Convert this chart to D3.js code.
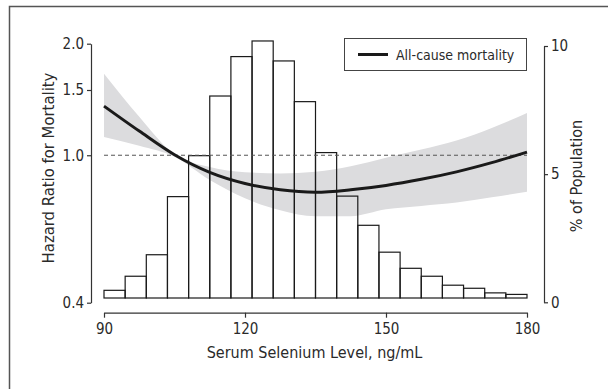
<!DOCTYPE html>
<html lang="en">
  <head>
    <meta charset="utf-8">
    <title>Selenium mortality</title>
    <script src="https://d3js.org/d3.v7.min.js"></script>
    <style>
      body { margin: 0; background: #fff; }
      text { font-family: "Liberation Sans Narrow", "DejaVu Sans Condensed", "Liberation Sans", sans-serif; fill: #2a2a2a; }
    </style>
  </head>
  <body>
    <div id="chart"></div>
    <script>
      // Histogram: % of population per 4.5 ng/mL bin, from 90 to 180
      var binEdges = d3.range(0, 21).map(function(i) { return 90 + i * 4.5; });
      var pctPopulation = [0.30, 0.85, 1.69, 3.96, 5.56, 7.89, 9.43, 10.04, 9.26, 7.67,
                           5.68, 3.98, 2.84, 1.79, 1.16, 0.85, 0.50, 0.38, 0.20, 0.14];

      // Spline estimate of hazard ratio with its confidence band
      var selenium = [90, 97.5, 105, 112.5, 120, 127.5, 135, 142.5, 150, 157.5, 165, 172.5, 180];
      var hazard   = [1.357, 1.162, 1.003, 0.899, 0.839, 0.807, 0.795, 0.807, 0.829, 0.861, 0.902, 0.955, 1.02];
      var upperCI  = [1.66, 1.27, 1.005, 0.93, 0.90, 0.893, 0.902, 0.934, 0.985, 1.036, 1.096, 1.185, 1.30];
      var lowerCI  = [1.12, 1.06, 0.99, 0.857, 0.765, 0.71, 0.684, 0.685, 0.715, 0.73, 0.745, 0.77, 0.797];

      var xTicks = [90, 120, 150, 180];
      var hrTicks = [0.4, 1.0, 1.5, 2.0];
      var pctTicks = [0, 5, 10];
      var legendLabel = "All-cause mortality";

      var width = 608, height = 389;

      var svg = d3.select("#chart").append("svg")
          .attr("width", width)
          .attr("height", height);

      // outer frame (runs off the right and bottom edges)
      svg.append("rect")
          .attr("x", 9.5).attr("y", 6.5)
          .attr("width", 620).attr("height", 400)
          .attr("fill", "none")
          .attr("stroke", "#555")
          .attr("stroke-width", 1.5);

      var x = d3.scaleLinear().domain([90, 180]).range([104, 527]);
      var y = d3.scaleLog().domain([0.4, 2.0]).range([302.7, 43.7]);
      var yPct = d3.scaleLinear().domain([0, 10]).range([302.3, 46]);
      // bars sit slightly above the 0 tick in the original
      var yBar = d3.scaleLinear().domain([0, 10]).range([298, 42]);

      var data = selenium.map(function(s, i) {
        return {s: s, hr: hazard[i], lo: lowerCI[i], hi: upperCI[i]};
      });

      // confidence band
      svg.append("path")
          .datum(data)
          .attr("fill", "#dcdcde")
          .attr("d", d3.area()
              .curve(d3.curveMonotoneX)
              .x(function(d) { return x(d.s); })
              .y0(function(d) { return y(d.lo); })
              .y1(function(d) { return y(d.hi); }));

      // histogram bars
      svg.selectAll(".bar")
          .data(pctPopulation)
          .enter().append("rect")
          .attr("class", "bar")
          .attr("x", function(d, i) { return x(binEdges[i]); })
          .attr("width", function(d, i) { return x(binEdges[i + 1]) - x(binEdges[i]); })
          .attr("y", function(d) { return yBar(d); })
          .attr("height", function(d) { return yBar(0) - yBar(d); })
          .attr("fill", "none")
          .attr("stroke", "#1a1a1a")
          .attr("stroke-width", 1.2);

      // reference line at HR = 1
      svg.append("line")
          .attr("x1", x(90)).attr("x2", x(180))
          .attr("y1", y(1)).attr("y2", y(1))
          .attr("stroke", "#555")
          .attr("stroke-width", 1)
          .attr("stroke-dasharray", "4,3");

      // hazard ratio curve
      svg.append("path")
          .datum(data)
          .attr("fill", "none")
          .attr("stroke", "#1a1a1a")
          .attr("stroke-width", 3)
          .attr("d", d3.line()
              .curve(d3.curveMonotoneX)
              .x(function(d) { return x(d.s); })
              .y(function(d) { return y(d.hr); }));

      // axes
      function styleAxis(g) {
        g.selectAll("path, line").attr("stroke", "#333").attr("stroke-width", 1.2);
        g.selectAll("text").attr("font-size", 15).attr("fill", "#2a2a2a")
            .attr("font-family", "Liberation Sans Narrow, DejaVu Sans Condensed, sans-serif");
      }

      svg.append("g")
          .attr("transform", "translate(0,312.7)")
          .call(d3.axisBottom(x).tickValues(xTicks).tickFormat(d3.format("d"))
              .tickSize(5).tickSizeOuter(0).tickPadding(6))
          .call(styleAxis);

      svg.append("g")
          .attr("transform", "translate(91,0)")
          .call(d3.axisLeft(y).tickValues(hrTicks).tickFormat(d3.format(".1f"))
              .tickSize(4).tickSizeOuter(0).tickPadding(3))
          .call(styleAxis);

      svg.append("g")
          .attr("transform", "translate(544,0)")
          .call(d3.axisRight(yPct).tickValues(pctTicks).tickFormat(d3.format("d"))
              .tickSize(4).tickSizeOuter(0).tickPadding(3))
          .call(styleAxis);

      // axis titles
      svg.append("text")
          .attr("x", (x(90) + x(180)) / 2 - 1)
          .attr("y", 358)
          .attr("text-anchor", "middle")
          .attr("font-size", 16)
          .text("Serum Selenium Level, ng/mL");

      svg.append("text")
          .attr("transform", "translate(54,168) rotate(-90)")
          .attr("text-anchor", "middle")
          .attr("font-size", 16.5)
          .text("Hazard Ratio for Mortality");

      svg.append("text")
          .attr("transform", "translate(582,176) rotate(-90)")
          .attr("text-anchor", "middle")
          .attr("font-size", 16)
          .text("% of Population");

      // legend
      var legend = svg.append("g");
      legend.append("rect")
          .attr("x", 344.5).attr("y", 38.5)
          .attr("width", 182).attr("height", 32)
          .attr("fill", "#fff")
          .attr("stroke", "#444")
          .attr("stroke-width", 1);
      legend.append("line")
          .attr("x1", 358).attr("x2", 388)
          .attr("y1", 54.5).attr("y2", 54.5)
          .attr("stroke", "#1a1a1a")
          .attr("stroke-width", 3);
      legend.append("text")
          .attr("x", 396).attr("y", 59.5)
          .attr("font-size", 14)
          .text(legendLabel);
    </script>
  </body>
</html>
